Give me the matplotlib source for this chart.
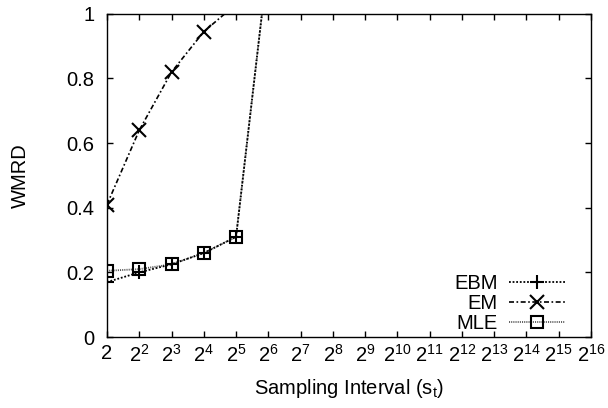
import matplotlib
matplotlib.use('Agg')
import matplotlib.pyplot as plt

plt.rcParams['font.family'] = ['Liberation Sans', 'DejaVu Sans']
plt.rcParams['mathtext.fontset'] = 'custom'
plt.rcParams['mathtext.rm'] = 'Liberation Sans'

# sampling interval exponents (2^k)
ebm_exp = [1, 2, 3, 4, 5, 6]
ebm_vals = [0.17, 0.20, 0.225, 0.26, 0.31, 1.17]

em_exp = [1, 2, 3, 4, 5]
em_vals = [0.41, 0.64, 0.82, 0.945, 1.03]

mle_exp = [1, 2, 3, 4, 5, 6]
mle_vals = [0.205, 0.21, 0.225, 0.26, 0.31, 1.17]

xtick_exp = list(range(1, 17))
ytick_vals = [0, 0.2, 0.4, 0.6, 0.8, 1]
ytick_labels = ['0', '0.2', '0.4', '0.6', '0.8', '1']

FS = 14.5


def to_x(exps):
    return [2 ** e for e in exps]


fig = plt.figure(figsize=(6.08, 4.08), dpi=100)
ax = fig.add_axes([0.176, 0.174, 0.796, 0.792])

ax.plot(to_x(mle_exp), mle_vals, color='#555555', linestyle=(0, (0.6, 0.6)), linewidth=1.3,
        marker='s', markersize=9, markerfacecolor='none', markeredgecolor='black',
        markeredgewidth=1.5, label='MLE')
ax.plot(to_x(em_exp), em_vals, color='black', linestyle=(0, (3, 1.5, 1, 1.5)), linewidth=1.2,
        marker='x', markersize=10, markeredgewidth=1.5, label='EM')
ax.plot(to_x(ebm_exp), ebm_vals, color='black', linestyle=(0, (1, 1)), linewidth=1.3,
        marker='+', markersize=10, markeredgewidth=1.5, label='EBM')

ax.set_xscale('log', base=2)
ax.set_xlim(2, 2 ** 16)
ax.set_ylim(0, 1)
ax.set_xticks(to_x(xtick_exp))
ax.set_xticklabels(['2'] + [r'$\mathregular{2^{%d}}$' % e for e in xtick_exp[1:]])
ax.minorticks_off()
ax.set_yticks(ytick_vals)
ax.set_yticklabels(ytick_labels)
ax.tick_params(direction='in', length=4, width=1, top=True, right=True, labelsize=FS)
ax.tick_params(axis='y', pad=9)
ax.tick_params(axis='x', pad=5)

ax.set_xlabel(r'Sampling Interval (s$\mathregular{_t}$)', fontsize=FS, labelpad=8)
ax.set_ylabel('WMRD', fontsize=FS, labelpad=26)

handles, labels = ax.get_legend_handles_labels()
order = [2, 1, 0]
ax.legend([handles[i] for i in order], [labels[i] for i in order],
          loc='lower right', bbox_to_anchor=(0.946, 0.013), frameon=False,
          markerfirst=False, fontsize=FS, handlelength=2.75, handletextpad=0.6,
          labelspacing=0.05, borderpad=0, borderaxespad=0)

for s in ax.spines.values():
    s.set_linewidth(1)

fig.savefig('out.png', dpi=100)
